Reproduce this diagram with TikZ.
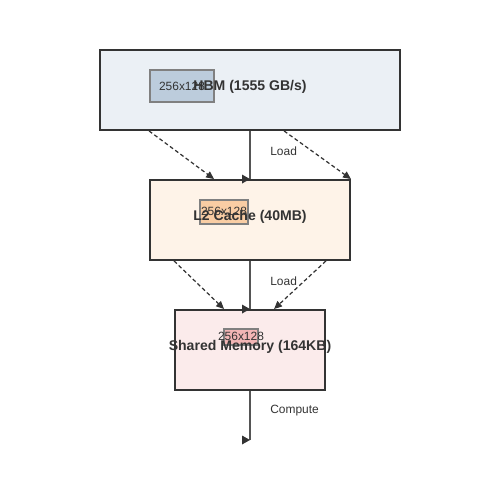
\documentclass[tikz,border=0pt]{standalone}
\usepackage{fontspec}
\setmainfont{Liberation Sans}
\usetikzlibrary{arrows.meta,calc,positioning}
\definecolor{linedark}{HTML}{333333}
\definecolor{flowgray}{HTML}{555555}
\definecolor{hbmfill}{HTML}{EBF0F5}
\definecolor{hbmtile}{HTML}{BCCCDC}
\definecolor{cachefill}{HTML}{FEF3E8}
\definecolor{cachetile}{HTML}{F9CDA4}
\definecolor{smemfill}{HTML}{FBEBEB}
\definecolor{smemtile}{HTML}{F2B5B5}

\begin{document}
\begin{tikzpicture}[x=0.02cm, y=-0.02cm,
    membox/.style={draw=linedark, line width=1.1pt, minimum height=1.6cm, inner sep=0pt},
    tile/.style={draw=gray, line width=0.6pt, inner sep=0pt},
    tiletext/.style={text=linedark, font=\fontsize{6.8}{8}\selectfont},
    memlabel/.style={text=linedark, font=\fontsize{8}{9.6}\selectfont\bfseries},
    steplabel/.style={text=linedark, font=\fontsize{6.8}{8}\selectfont, anchor=west, inner sep=0pt},
    flow/.style={draw=flowgray, line width=0.85pt},
    tilemove/.style={draw=linedark, line width=0.7pt, dash pattern=on 2.2pt off 1.5pt,
        -{Triangle[length=4.5pt,width=4pt]}},
    flowhead/.style={fill=linedark}]

    \useasboundingbox (0,0) rectangle (500,500);

    %memory levels
    \node[membox, fill=hbmfill, minimum width=6cm] (hbm) at (250,90) {};
    \node[membox, fill=cachefill, minimum width=4cm] (cache) at (250,220) {};
    \node[membox, fill=smemfill, minimum width=3cm] (smem) at (250,350) {};

    %tiles
    \node[tile, fill=hbmtile, minimum width=1.28cm, minimum height=0.64cm] (hbmtile) at (182,86) {};
    \node[tile, fill=cachetile, minimum width=0.96cm, minimum height=0.48cm] (cachetile) at (224,212) {};
    \node[tile, fill=smemtile, minimum width=0.68cm, minimum height=0.32cm] (smemtile) at (241,337) {};

    \node[tiletext] (hbmtiletext) at (182,86) {256x128};
    \node[tiletext] (cachetiletext) at (224,211) {256x128};
    \node[tiletext] (smemtiletext) at (241,336) {256x128};

    %labels
    \node[memlabel] (hbmlabel) at (250,87) {HBM (1555 GB/s)};
    \node[memlabel] (cachelabel) at (250,217) {L2 Cache (40MB)};
    \node[memlabel] (smemlabel) at (250,347) {Shared Memory (164KB)};

    %vertical flow
    \coordinate (compute) at (250,440);
    \draw[flow] (hbm.south) -- (cache.north);
    \draw[flow] (cache.south) -- (smem.north);
    \draw[flow] (smem.south) -- (compute);
    \foreach \p in {cache.north, smem.north, compute}
        \fill[flowhead] (\p) -- ++(-8,-4.5) -- ++(0,9) -- cycle;

    \node[steplabel] (loadone) at (270,151) {Load};
    \node[steplabel] (loadtwo) at (270,281) {Load};
    \node[steplabel] (computelabel) at (270,411) {Compute};

    %tile moves
    \draw[tilemove] ($(hbm.south west)+(50,0)$) -- ($(cache.north west)+(65,0)$);
    \draw[tilemove] ($(hbm.south west)+(185,0)$) -- ($(cache.north east)$);
    \draw[tilemove] ($(cache.south west)+(25,0)$) -- ($(smem.north west)+(50,0)$);
    \draw[tilemove] ($(cache.south east)+(-25,0)$) -- ($(smem.north west)+(100,0)$);

\end{tikzpicture}
\end{document}
